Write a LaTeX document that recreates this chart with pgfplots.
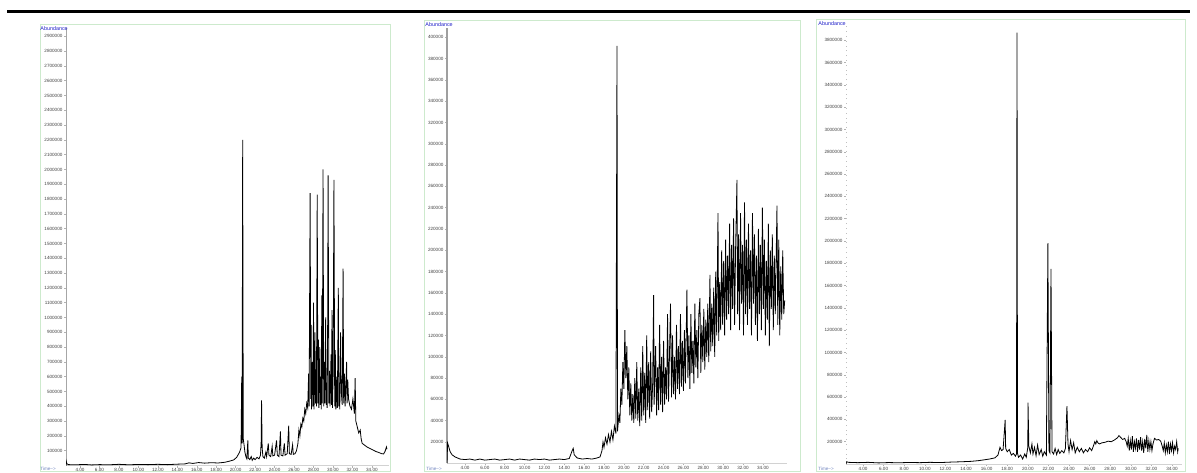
\documentclass[border=0pt]{standalone}
\usepackage{fontspec}
\setmainfont{Liberation Sans}
\usepackage{pgfplots}
\pgfplotsset{compat=1.18}
\definecolor{frameg}{RGB}{205,234,205}
\definecolor{absblue}{RGB}{30,30,200}
\definecolor{timeblue}{RGB}{110,130,190}
\newcommand\tinyf{\fontsize{2.3}{2.6}\selectfont}
\pgfplotsset{
  chrom/.style={
    scale only axis,
    anchor=south west,
    axis x line=bottom, axis y line=left,
    axis line style={-},
    x axis line style={draw=gray!35, line width=0.3pt},
    tick align=outside,
    major tick length=1.0pt,
    tick style={draw=gray!60, line width=0.25pt},
    /pgf/number format/assume math mode=true,
    tick label style={font=\tinyf, text=black!75},
    xtick={4,6,...,34},
    x tick label style={/pgf/number format/fixed, /pgf/number format/fixed zerofill, /pgf/number format/precision=2, inner sep=0pt, yshift=-0.3pt},
    scaled y ticks=false,
    y tick label style={/pgf/number format/fixed, /pgf/number format/1000 sep={}, inner sep=0.6pt},
    ymin=0,
    clip=true,
  },
  trace/.style={black, line width=0.4pt, mark=none},
}
\begin{document}
\begin{tikzpicture}
\path[use as bounding box] (0pt,0pt) rectangle (598.5pt,236pt);
% top rule
\draw[line width=1.5pt, black] (3.5pt,230pt) -- (595pt,230pt);
% panel frames
\draw[frameg, line width=0.5pt] (20pt,0.3pt) rectangle (195pt,223.5pt);
\draw[frameg, line width=0.5pt] (212pt,0.3pt) rectangle (400pt,225.5pt);
\draw[frameg, line width=0.5pt] (408pt,0.3pt) rectangle (592.5pt,226pt);

% ---------------- Panel 1 ----------------
\begin{axis}[chrom,
  at={(33pt,3.25pt)}, width=161.5pt, height=218.75pt,
  xmin=2.56, xmax=35.76, ymax=2956000,
  y axis line style={draw=gray!70, line width=0.5pt},
  ytick={100000,200000,...,2900000},
]
\addplot[trace] coordinates {
(2.56,0) (2.58,30000) (2.65,12000) (2.8,6000) (3.5,5000) (4.5,7000) (5.2,4000) (6.0,6000)
(7.0,5000) (8.0,8000) (9.0,5000) (10.0,7000) (11.0,6000) (12.0,8000) (13.0,6000) (14.0,9000)
(14.8,11000) (15.2,18000) (15.6,14000) (16.2,20000) (16.8,16000) (17.5,19000) (18.2,17000)
(18.9,22000) (19.4,30000) (19.8,38000) (20.1,55000) (20.4,90000) (20.55,120000) (20.62,600000)
(20.66,150000) (20.72,2200000) (20.78,180000) (20.86,140000) (20.95,90000) (21.05,60000)
(21.15,45000) (21.25,170000) (21.3,50000) (21.45,40000) (21.6,60000) (21.7,35000) (21.85,50000)
(22.0,40000) (22.2,55000) (22.4,45000) (22.55,70000) (22.62,160000) (22.66,440000) (22.72,120000)
(22.8,60000) (22.95,50000) (23.1,90000) (23.18,60000) (23.35,150000) (23.42,70000) (23.6,60000)
(23.75,130000) (23.82,65000) (24.0,70000) (24.2,170000) (24.28,70000) (24.45,60000) (24.6,230000)
(24.66,70000) (24.85,65000) (25.0,150000) (25.08,70000) (25.3,80000) (25.45,270000) (25.52,80000)
(25.7,75000) (25.85,140000) (25.92,75000) (26.1,80000) (26.25,100000) (26.4,150000) (26.5,240000)
(26.6,200000) (26.7,280000) (26.8,260000) (26.9,320000) (27.0,300000) (27.1,380000) (27.2,350000)
(27.3,420000) (27.4,390000) (27.5,620000) (27.55,400000) (27.65,1840000) (27.72,450000)
(27.76,950000) (27.8,380000) (27.85,560000) (27.9,700000) (27.95,400000) (28.0,1100000)
(28.05,380000) (28.1,520000) (28.15,900000) (28.2,420000) (28.25,650000)
(28.3,400000) (28.38,1830000) (28.45,420000) (28.5,850000) (28.55,390000) (28.65,800000) (28.7,410000)
(28.75,600000) (28.8,380000) (28.85,1150000) (28.9,420000) (28.98,2000000) (29.05,400000) (29.1,700000)
(29.15,420000) (29.25,1000000) (29.3,410000) (29.35,560000)
(29.4,390000) (29.45,880000) (29.5,1960000) (29.58,420000) (29.63,640000) (29.7,400000) (29.8,750000) (29.85,410000)
(29.9,1050000) (29.95,390000) (30.02,620000) (30.1,1930000) (30.18,400000) (30.24,780000) (30.3,380000) (30.4,600000) (30.45,390000)
(30.55,1200000) (30.6,400000) (30.65,560000) (30.7,380000) (30.78,900000) (30.85,500000) (30.95,410000) (31.04,1330000)
(31.1,420000) (31.18,620000) (31.25,400000) (31.32,520000) (31.4,700000) (31.45,420000) (31.52,580000) (31.6,450000) (31.75,400000)
(31.9,380000) (32.05,450000) (32.2,350000) (32.28,590000) (32.35,300000) (32.5,260000)
(32.65,220000) (32.8,240000) (32.9,180000) (33.0,150000) (33.2,140000) (33.5,125000)
(33.8,115000) (34.1,105000) (34.4,95000) (34.7,88000) (35.0,80000) (35.2,78000) (35.35,95000)
(35.5,125000) (35.55,110000)
};
\end{axis}

% ---------------- Panel 2 ----------------
\begin{axis}[chrom,
  at={(223.5pt,4.35pt)}, width=170pt, height=217.65pt,
  xmin=2.19, xmax=36.43, ymax=408700,
  y axis line style={draw=gray!75, line width=1pt},
  ytick={20000,40000,...,400000},
]
\addplot[trace] coordinates {
(2.19,0) (2.25,19000) (2.35,16000) (2.5,11000) (2.7,8000) (3.0,6000) (3.5,4000) (4.0,3500)
(4.5,4000) (5.0,3000) (5.5,4000) (6.0,3000) (6.5,3500) (7.0,4000) (7.5,3000) (8.0,3500)
(8.5,4000) (9.0,3000) (9.5,4000) (10.0,3500) (10.5,3000) (11.0,4000) (11.5,3500) (12.0,4000)
(12.5,3000) (13.0,3500) (13.5,4000) (14.0,3500) (14.5,4500) (14.8,12000) (14.9,14000)
(15.0,8000) (15.3,5000) (15.8,4000) (16.3,4500) (16.8,4000) (17.3,5000) (17.6,6000)
(17.8,12000) (17.9,20000) (18.0,15000) (18.15,24000) (18.3,18000) (18.45,27000) (18.6,20000)
(18.75,30000) (18.9,22000) (19.05,35000) (19.2,28000) (19.31,392000) (19.36,30000) (19.5,45000)
(19.6,38000) (19.7,70000) (19.8,55000) (19.9,95000) (20.0,70000) (20.1,125000) (20.2,80000)
(20.3,110000) (20.4,60000) (20.5,90000) (20.6,45000) (20.7,75000) (20.8,40000) (20.9,65000)
(21.0,38000) (21.1,80000) (21.2,42000) (21.3,95000) (21.4,40000) (21.5,70000) (21.6,35000)
(21.7,90000) (21.8,40000) (21.9,110000) (22.0,45000) (22.1,85000) (22.2,38000) (22.3,120000)
(22.4,50000) (22.5,95000) (22.6,42000) (22.7,105000) (22.8,48000) (22.9,75000) (23.0,158000)
(23.05,55000) (23.2,110000) (23.3,45000) (23.4,90000) (23.5,50000) (23.6,130000) (23.7,55000)
(23.8,100000) (23.9,48000) (24.0,115000) (24.1,55000) (24.2,90000) (24.3,60000) (24.4,140000)
(24.5,58000) (24.6,105000) (24.7,150000) (24.8,62000) (24.9,120000) (25.0,65000) (25.1,100000)
(25.2,60000) (25.3,130000) (25.4,70000) (25.5,110000) (25.6,65000) (25.7,140000) (25.8,72000)
(25.9,115000) (26.0,68000) (26.1,125000) (26.2,75000) (26.35,163000) (26.45,80000)
(26.55,120000) (26.65,70000) (26.75,140000) (26.85,85000) (26.95,115000) (27.05,75000)
(27.15,150000) (27.25,90000) (27.35,125000) (27.45,80000) (27.55,140000) (27.66,155000)
(27.75,85000) (27.85,130000) (27.95,95000) (28.05,145000) (28.15,88000) (28.25,135000)
(28.35,100000) (28.45,150000) (28.55,95000) (28.67,177000) (28.75,105000) (28.85,150000)
(28.95,110000) (29.05,165000) (29.15,100000) (29.25,180000) (29.35,120000) (29.48,235000)
(29.55,115000) (29.65,170000) (29.75,125000) (29.85,200000) (29.95,130000) (30.05,190000)
(30.15,120000) (30.25,210000) (30.35,135000) (30.45,195000) (30.55,140000) (30.65,225000)
(30.75,125000) (30.85,205000) (30.95,145000) (31.05,230000) (31.15,130000) (31.25,200000)
(31.39,266000) (31.45,140000) (31.55,215000) (31.65,125000) (31.75,235000) (31.85,150000)
(31.95,205000) (32.05,120000) (32.15,245000) (32.25,140000) (32.35,210000) (32.45,130000)
(32.55,225000) (32.65,145000) (32.75,200000) (32.85,120000) (32.95,235000) (33.05,150000)
(33.15,215000) (33.25,130000) (33.35,195000) (33.45,115000) (33.55,220000) (33.65,140000)
(33.75,205000) (33.85,125000) (33.95,240000) (34.05,145000) (34.15,210000) (34.25,120000)
(34.35,190000) (34.45,135000) (34.55,225000) (34.65,110000) (34.75,200000) (34.85,145000)
(34.95,215000) (35.05,125000) (35.15,195000) (35.25,140000) (35.42,242000) (35.5,130000)
(35.6,210000) (35.7,120000) (35.8,185000) (35.9,135000) (36.0,200000) (36.1,140000)
(36.2,153000)
};
\end{axis}

% ---------------- Panel 3 ----------------
\begin{axis}[chrom,
  at={(423pt,4pt)}, width=168pt, height=219pt,
  xmin=2.35, xmax=34.97, ymax=3928400,
  y axis line style={draw=gray!50, line width=0.4pt, dotted},
  ytick={200000,400000,...,3800000},
]
\addplot[trace] coordinates {
(2.35,0) (2.40,20000) (2.6,15000) (3.5,12000) (4.5,15000) (5.5,10000) (6.5,13000) (7.5,11000)
(8.5,14000) (9.5,12000) (10.5,15000) (11.5,13000) (12.5,17000) (13.5,20000) (14.5,24000)
(15.2,30000) (15.8,38000) (16.3,45000) (16.8,55000) (17.1,80000) (17.3,150000) (17.45,120000)
(17.6,130000) (17.8,395000) (17.85,140000) (18.0,110000) (18.2,130000) (18.4,80000)
(18.6,95000) (18.8,70000) (18.9,90000) (18.95,3870000) (19.0,95000) (19.1,60000) (19.3,80000)
(19.5,45000) (19.7,90000) (19.85,60000) (20.0,150000) (20.02,550000) (20.1,160000)
(20.25,100000) (20.4,180000) (20.5,90000) (20.65,150000) (20.8,75000) (20.95,170000)
(21.1,85000) (21.3,130000) (21.45,70000) (21.6,110000) (21.8,80000) (21.95,1980000)
(22.05,120000) (22.15,100000) (22.25,1750000) (22.35,110000) (22.5,90000) (22.65,140000)
(22.8,85000) (22.95,130000) (23.1,95000) (23.3,120000) (23.5,100000) (23.65,140000)
(23.8,520000) (23.9,180000) (24.0,110000) (24.15,210000) (24.3,130000) (24.45,190000)
(24.6,100000) (24.8,150000) (25.0,110000) (25.2,140000) (25.4,100000) (25.6,130000)
(25.8,110000) (26.0,145000) (26.2,120000) (26.4,170000) (26.5,200000) (26.6,180000)
(26.7,210000) (26.8,190000) (26.95,180000) (27.2,190000) (27.5,195000) (27.8,205000)
(28.1,200000) (28.4,215000) (28.7,235000) (28.85,255000) (29.0,240000) (29.2,220000)
(29.4,230000) (29.55,200000) (29.65,160000) (29.75,230000) (29.85,120000) (29.95,210000)
(30.05,130000) (30.15,250000) (30.25,110000) (30.35,200000) (30.45,140000) (30.55,230000)
(30.65,110000) (30.75,215000) (30.85,130000) (30.95,240000) (31.05,120000) (31.15,200000)
(31.25,100000) (31.35,225000) (31.45,140000) (31.55,260000) (31.65,110000) (31.75,210000)
(31.85,130000) (31.95,200000) (32.05,120000) (32.15,180000) (32.3,230000) (32.5,215000)
(32.7,220000) (32.9,205000) (33.05,160000) (33.15,120000) (33.25,190000) (33.35,100000)
(33.45,170000) (33.55,110000) (33.65,200000) (33.75,90000) (33.85,180000) (33.95,120000)
(34.05,190000) (34.15,100000) (34.25,160000) (34.35,130000) (34.45,200000) (34.55,110000)
(34.6,140000)
};
\end{axis}

% labels
\node[anchor=south west, inner sep=0pt, font=\fontsize{2.7}{3}\selectfont, text=absblue] at (20pt,220.5pt) {Abundance};
\node[anchor=south west, inner sep=0pt, font=\fontsize{2.7}{3}\selectfont, text=absblue] at (212.5pt,222.5pt) {Abundance};
\node[anchor=south west, inner sep=0pt, font=\fontsize{2.7}{3}\selectfont, text=absblue] at (409pt,223pt) {Abundance};
\node[anchor=south west, inner sep=0pt, font=\tinyf, text=timeblue] at (20pt,0.4pt) {Time-->};
\node[anchor=south west, inner sep=0pt, font=\tinyf, text=timeblue] at (213pt,0.4pt) {Time-->};
\node[anchor=south west, inner sep=0pt, font=\tinyf, text=timeblue] at (409pt,0.4pt) {Time-->};
\end{tikzpicture}
\end{document}
